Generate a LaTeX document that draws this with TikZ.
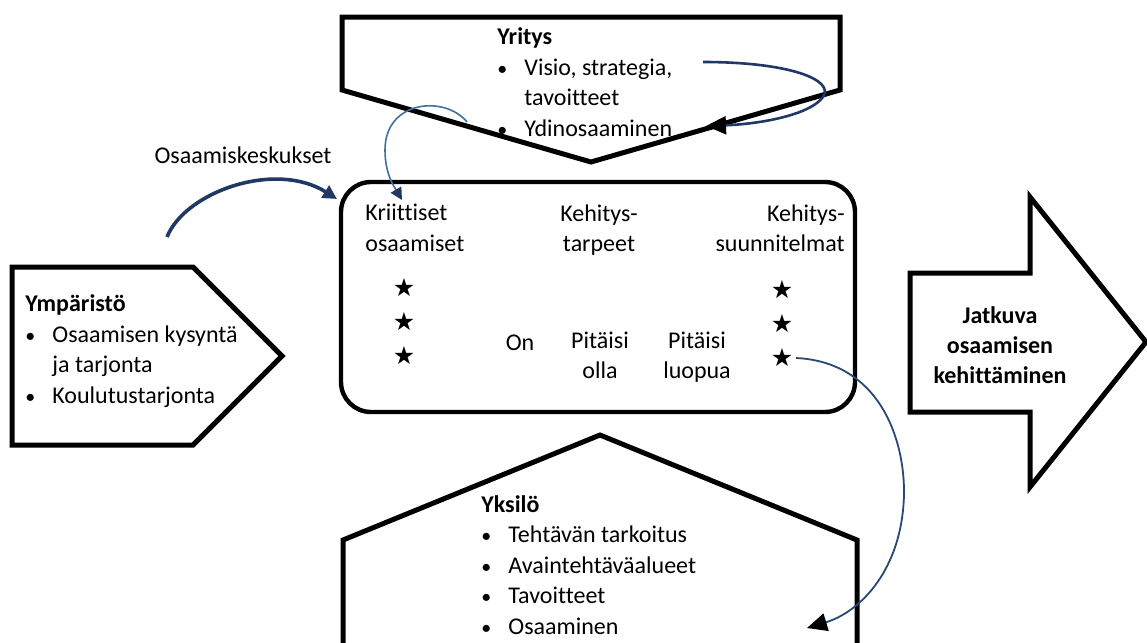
\documentclass[tikz,border=0pt]{standalone}
\usepackage{fontspec}
\setmainfont{Carlito}[Ligatures=CommonOff]
\newfontfamily\symfont{DejaVu Sans}
\usetikzlibrary{arrows.meta}
\definecolor{navy}{RGB}{31,56,100}
\definecolor{steel}{RGB}{65,113,156}
\newcommand{\bul}{\makebox[13.5pt][l]{\fontsize{10}{10}\selectfont\textbullet}}
\newcommand{\ind}{\hspace*{13.5pt}}
\begin{document}
\begin{tikzpicture}[x=0.5pt,y=-0.5pt,
    blok/.style={draw=black,line width=2.5pt,line join=miter,fill=white},
    txt/.style={anchor=base west,align=left,inner sep=0pt,font=\fontsize{12}{15.2}\selectfont},
    mid/.style={anchor=base,align=center,inner sep=0pt,font=\fontsize{12}{15}\selectfont},
    tahti/.style={inner sep=0pt,font=\symfont\fontsize{12.5}{12}\selectfont},
    kaari/.style={navy,line width=1.2pt}]
    \fill[white] (0,0) rectangle (1147,643);
    \useasboundingbox (0,0) rectangle (1147,643);

    % shapes
    \draw[blok] (342,17) -- (840,17) -- (840,90) -- (591,162) -- (342,90) -- cycle;
    \draw[blok] (12,267) -- (193,267) -- (282,356) -- (193,445) -- (12,445) -- cycle;
    \draw[blok] (343,660) -- (343,540) -- (600,435) -- (857,540) -- (857,660);
    \draw[blok] (910,273) -- (1030,273) -- (1030,197) -- (1146,342) -- (1030,487) -- (1030,412) -- (910,412) -- cycle;
    \node[draw, line width=2.2pt, rounded corners=15pt, minimum width=257pt, minimum height=115pt] (keskus) at (598,297) {};

    % Yritys, Ympäristö, Yksilö (base = last line)
    \node[txt] (yritys) at (497,136) {\textbf{Yritys}\\\bul Visio, strategia,\\\ind tavoitteet\\\bul Ydinosaaminen};
    \node[txt] (ymparisto) at (25,403) {\textbf{Ympäristö}\\\bul Osaamisen kysyntä\\\ind ja tarjonta\\\bul Koulutustarjonta};
    \node[txt] (yksilo) at (481,634) {\textbf{Yksilö}\\\bul Tehtävän tarkoitus\\\bul Avaintehtäväalueet\\\bul Tavoitteet\\\bul Osaaminen};
    \node[mid] (osk) at (243,163) {Osaamiskeskukset};
    \node[mid, font=\fontsize{12}{15}\selectfont\bfseries] (jatkuva) at (1000,383) {Jatkuva\\osaamisen\\kehittäminen};

    % columns in the middle
    \node[txt] (kriit) at (365,251) {Kriittiset\\osaamiset};
    \node[mid] (ktarve) at (599,251) {Kehitys-\\tarpeet};
    \node[anchor=base east, align=right, inner sep=0pt, font=\fontsize{12}{15}\selectfont] (ksuun) at (845,251) {Kehitys-\\suunnitelmat};
    \node[mid] (on) at (520,350) {On};
    \node[mid] (olla) at (600,378) {Pitäisi\\olla};
    \node[mid] (luopua) at (697,378) {Pitäisi\\luopua};
    \foreach \i/\y in {1/288,2/322,3/356} {
        \node[tahti] (s\i) at (404,\y) {★};
        \node[tahti] (t\i) at (782,\y+2) {★};
    }

    % connectors
    \coordinate (a1) at (167,237);
    \coordinate (a2) at (337,199);
    \coordinate (b1) at (467,122);
    \coordinate (b2) at (402,200);
    \coordinate (c1) at (703,62);
    \coordinate (c2) at (706,126);
    \coordinate (d2) at (807,628);
    \draw[kaari, line width=1.8pt, -{Triangle[length=7pt,width=7pt]}] (a1) .. controls (185,192) and (275,160) .. (a2);
    \draw[steel, line width=0.8pt, -{Triangle[length=6pt,width=6pt,color=navy]}] (b1) .. controls (445,95) and (385,100) .. (385,150) .. controls (385,175) and (395,188) .. (b2);
    \draw[kaari, line width=1.3pt, -{Triangle[length=10pt,width=9pt,color=black]}] (c1) .. controls (790,62) and (835,80) .. (823,97) .. controls (810,115) and (760,124) .. (c2);
    \draw[navy!70!steel, line width=0.9pt, -{Triangle[length=10pt,width=9pt,color=black]}] ([xshift=7pt]t3.center) .. controls (880,362) and (905,440) .. (904,495) .. controls (902,570) and (860,612) .. (d2);
\end{tikzpicture}
\end{document}
